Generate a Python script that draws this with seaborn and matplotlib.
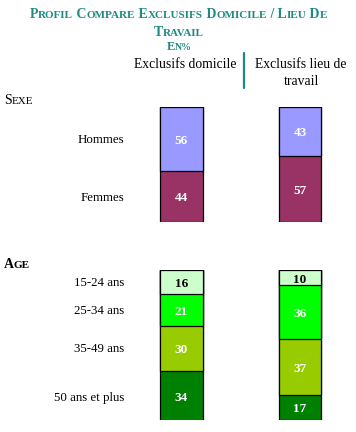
import numpy as np
import pandas as pd
import matplotlib
matplotlib.use("Agg")
import matplotlib.pyplot as plt
import matplotlib.transforms as mtransforms
from matplotlib.lines import Line2D
from matplotlib.offsetbox import TextArea, HPacker, AnnotationBbox
import seaborn as sns

# ---- data -------------------------------------------------------------
colonnes = ["Exclusifs domicile", "Exclusifs lieu de\ntravail"]

sexe_categories = ["Hommes", "Femmes"]
sexe_domicile = [56, 44]
sexe_lieu_travail = [43, 57]
sexe_couleurs = ["#9999FF", "#993366"]

age_categories = ["15-24 ans", "25-34 ans", "35-49 ans", "50 ans et plus"]
age_domicile = [16, 21, 30, 34]
age_lieu_travail = [10, 36, 37, 17]
age_couleurs = ["#CCFFCC", "#00FF00", "#99CC00", "#008000"]

titre_ligne1 = "PROFIL COMPARE EXCLUSIFS DOMICILE / LIEU DE"
titre_ligne2 = "TRAVAIL"
sous_titre = "EN%"

# ---- style ------------------------------------------------------------
sns.set_style("white")
plt.rcParams["font.family"] = ["Liberation Serif", "DejaVu Serif"]
TEAL = "#1f8a80"

W, H = 356, 432
fig = plt.figure(figsize=(W / 100, H / 100), dpi=100)
fig.patch.set_facecolor("white")

# bar centres (px) of the two columns and bar width
c0, c1 = 181.3, 300.0
unit = c1 - c0
bar_w = 42.5 / unit
xlim = (-c0 / unit, (W - c0) / unit)


def fy(y):
    return 1 - y / H


def small_caps(text, x, y, big, small, color, weight, align=(0.5, 0.5)):
    """Draw text in small capitals: first letter of each word larger."""
    parts = []
    words = text.split(" ")
    for k, word in enumerate(words):
        lead = " " if k > 0 else ""
        if word == "/":
            parts.append(TextArea(lead + word, textprops=dict(size=big, color=color, weight=weight)))
            continue
        parts.append(TextArea(lead + word[0], textprops=dict(size=big, color=color, weight=weight)))
        if len(word) > 1:
            parts.append(TextArea(word[1:], textprops=dict(size=small, color=color, weight=weight)))
    pack = HPacker(children=parts, pad=0, sep=0, align="baseline")
    ab = AnnotationBbox(pack, (x, H - y), xycoords="figure pixels",
                        box_alignment=align, frameon=False, pad=0)
    fig.add_artist(ab)


def stacked(top_px, bottom_px, categories, dom, trav, colors):
    ax = fig.add_axes([0, fy(bottom_px), 1, (bottom_px - top_px) / H])
    df = pd.DataFrame({
        "colonne": np.repeat(colonnes, len(categories)),
        "categorie": list(categories) * 2,
        "valeur": list(dom) + list(trav),
    })
    df["cumul"] = df.groupby("colonne", sort=False)["valeur"].cumsum()
    # draw cumulative bars from the longest to the shortest
    for cat, col in reversed(list(zip(categories, colors))):
        sub = df[df["categorie"] == cat]
        sns.barplot(data=sub, x="colonne", y="cumul", order=colonnes,
                    color=col, saturation=1, width=bar_w, edgecolor="black",
                    linewidth=0.9, errorbar=None, ax=ax)
    ax.set_xlim(*xlim)
    ax.set_ylim(100, 0)
    ax.axis("off")
    couleur = dict(zip(categories, colors))
    for _, r in df.iterrows():
        mid = r["cumul"] - r["valeur"] / 2
        rgb = matplotlib.colors.to_rgb(couleur[r["categorie"]])
        lum = 0.299 * rgb[0] + 0.587 * rgb[1] + 0.114 * rgb[2]
        ax.text(colonnes.index(r["colonne"]), mid + 1.5, f"{r['valeur']}",
                ha="center", va="center", fontsize=9.5, weight="bold",
                color="black" if lum > 0.85 else "white")
    # row labels on the left, aligned with the first column's segments
    tr = mtransforms.blended_transform_factory(fig.transFigure, ax.transData)
    first = df[df["colonne"] == colonnes[0]]
    for _, r in first.iterrows():
        mid = r["cumul"] - r["valeur"] / 2
        ax.text(124 / W, mid + 1, r["categorie"], transform=tr,
                ha="right", va="center", fontsize=9.3, color="black")
    return ax


ax_sexe = stacked(107, 222, sexe_categories, sexe_domicile, sexe_lieu_travail, sexe_couleurs)
ax_age = stacked(270, 420, age_categories, age_domicile, age_lieu_travail, age_couleurs)

# column headers
trh = mtransforms.blended_transform_factory(ax_sexe.transData, fig.transFigure)
for i, col in enumerate(colonnes):
    for k, line in enumerate(col.split("\n")):
        ax_sexe.text(i + (0.03 if i == 0 else 0.01), fy(68 + 17 * k), line, transform=trh,
                     ha="center", va="baseline", fontsize=9.8, color="black")

fig.add_artist(Line2D([244 / W, 244 / W], [fy(53), fy(88)], color=TEAL, lw=1.6))

# titles
small_caps(titre_ligne1, 178.5, 14, 10, 8, TEAL, "bold")
small_caps(titre_ligne2, 178.5, 32, 10, 8, TEAL, "bold")
small_caps(sous_titre, 179, 47, 9, 7, TEAL, "bold")

# section headings
small_caps("SEXE", 4, 100, 10, 8, "black", "normal", align=(0, 0.5))
small_caps("AGE", 4, 264, 10, 8, "black", "bold", align=(0, 0.5))

fig.savefig("out.png", dpi=100, facecolor="white")
